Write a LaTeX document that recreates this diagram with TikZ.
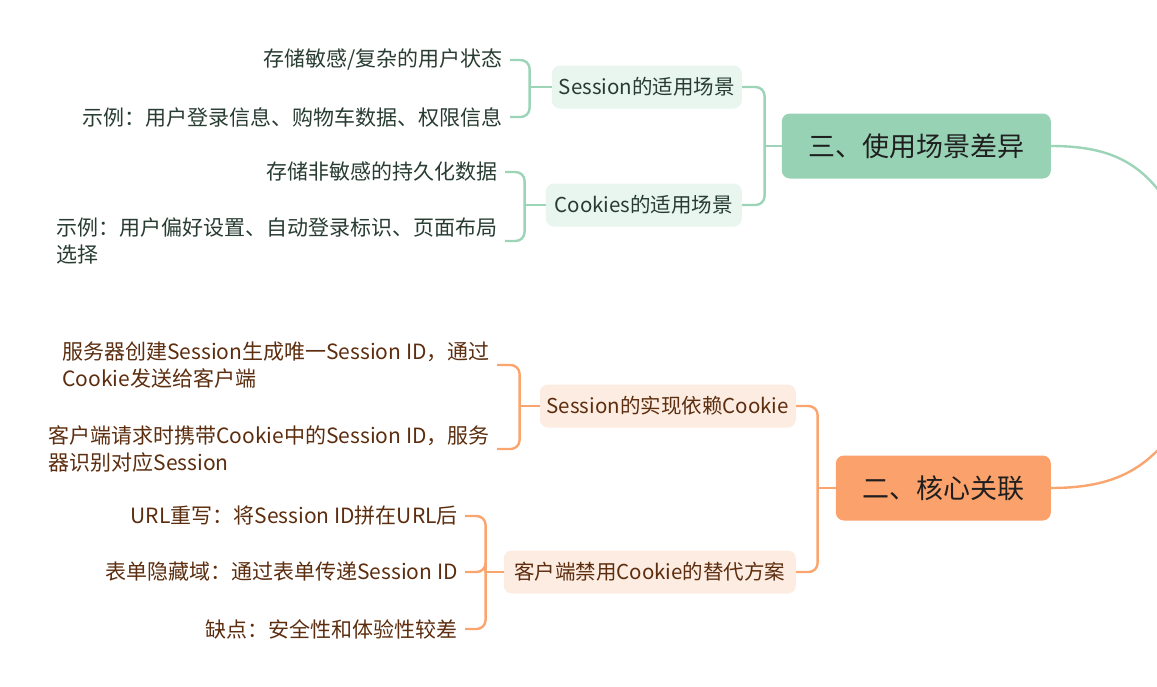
\documentclass[tikz,border=0pt]{standalone}
\usepackage{fontspec}
\setmainfont{Noto Sans CJK SC}
\usepackage{xcolor}
\usetikzlibrary{calc, positioning}
\definecolor{grnLine}{RGB}{155, 212, 183}
\definecolor{grnMain}{RGB}{151, 210, 181}
\definecolor{grnSub}{RGB}{233, 246, 239}
\definecolor{grnText}{RGB}{40, 60, 50}
\definecolor{orgLine}{RGB}{250, 164, 110}
\definecolor{orgMain}{RGB}{251, 162, 108}
\definecolor{orgSub}{RGB}{253, 236, 225}
\definecolor{orgText}{RGB}{92, 45, 14}

\begin{document}
\begin{tikzpicture}[x=1pt, y=-1pt,
    mainbox/.style={rounded corners=8pt, minimum height=65pt, anchor=east, font=\fontsize{27}{32}\selectfont, text=black!88},
    subbox/.style={rounded corners=8pt, minimum height=43pt, inner xsep=6pt, anchor=east, font=\fontsize{20.5}{26}\selectfont},
    leaf/.style={inner xsep=7pt, inner ysep=2pt, anchor=east, align=left, font=\fontsize{21}{27}\selectfont},
    glink/.style={draw=grnLine, line width=2.4pt, rounded corners=9pt},
    olink/.style={draw=orgLine, line width=2.4pt, rounded corners=9pt},
    rootlink/.style={line width=2.4pt}]
  \useasboundingbox (0,0) rectangle (1157,686);
  \clip (0,0) rectangle (1157,686);

  % usage branch
  \node[mainbox, fill=grnMain, minimum width=269pt] (usage) at (1051,146) {三、使用场景差异};
  \node[subbox, fill=grnSub, text=grnText, minimum width=190pt] (sessUse) at (742,87) {Session的适用场景};
  \node[subbox, fill=grnSub, text=grnText, minimum width=196pt] (cookUse) at (742,205) {Cookies的适用场景};
  \node[leaf, text=grnText] (sessA) at (510,60) {存储敏感/复杂的用户状态};
  \node[leaf, text=grnText] (sessB) at (510,117) {示例：用户登录信息、购物车数据、权限信息};
  \node[leaf, text=grnText] (cookA) at (505,172) {存储非敏感的持久化数据};
  \node[leaf, text=grnText] (cookB) at (505,241) {示例：用户偏好设置、自动登录标识、页面布局\\选择};

  % core branch
  \node[mainbox, fill=orgMain, minimum width=215pt] (core) at (1051,488) {二、核心关联};
  \node[subbox, fill=orgSub, text=orgText, minimum width=256pt] (sessDep) at (796,406) {Session的实现依赖Cookie};
  \node[subbox, fill=orgSub, text=orgText, minimum width=292pt] (noCook) at (796,572) {客户端禁用Cookie的替代方案};
  \node[leaf, text=orgText] (depA) at (497,365) {服务器创建Session生成唯一Session ID，通过\\Cookie发送给客户端};
  \node[leaf, text=orgText] (depB) at (497,449) {客户端请求时携带Cookie中的Session ID，服务\\器识别对应Session};
  \node[leaf, text=orgText] (altA) at (465,516) {URL重写：将Session ID拼在URL后};
  \node[leaf, text=orgText] (altB) at (465,572) {表单隐藏域：通过表单传递Session ID};
  \node[leaf, text=orgText] (altC) at (465,629) {缺点：安全性和体验性较差};

  % joints
  \coordinate (usageJ) at ($(usage.west)+(-17,0)$);
  \coordinate (sessUseJ) at ($(sessUse.west)+(-22,0)$);
  \coordinate (cookUseJ) at ($(cookUse.west)+(-21,0)$);
  \coordinate (coreJ) at ($(core.west)+(-18,0)$);
  \coordinate (sessDepJ) at ($(sessDep.west)+(-20,0)$);
  \coordinate (noCookJ) at ($(noCook.west)+(-18,0)$);
  \coordinate (rootUp) at (1160,192);
  \coordinate (rootDn) at (1160,448);

  % connectors
  \draw[rootlink, grnLine] (usage.east) .. controls (1105,146) and (1135,160) .. (rootUp);
  \draw[rootlink, orgLine] (core.east) .. controls (1105,488) and (1135,474) .. (rootDn);
  \draw[glink] (usage.west) -- (usageJ);
  \foreach \c in {sessUse, cookUse} \draw[glink] (usageJ) |- (\c.east);
  \draw[glink] (sessUse.west) -- (sessUseJ);
  \foreach \c in {sessA, sessB} \draw[glink] (sessUseJ) |- (\c.east);
  \draw[glink] (cookUse.west) -- (cookUseJ);
  \foreach \c in {cookA, cookB} \draw[glink] (cookUseJ) |- (\c.east);
  \draw[olink] (core.west) -- (coreJ);
  \foreach \c in {sessDep, noCook} \draw[olink] (coreJ) |- (\c.east);
  \draw[olink] (sessDep.west) -- (sessDepJ);
  \foreach \c in {depA, depB} \draw[olink] (sessDepJ) |- (\c.east);
  \draw[olink] (noCook.west) -- (noCookJ);
  \foreach \c in {altA, altB, altC} \draw[olink] (noCookJ) |- (\c.east);
\end{tikzpicture}
\end{document}
